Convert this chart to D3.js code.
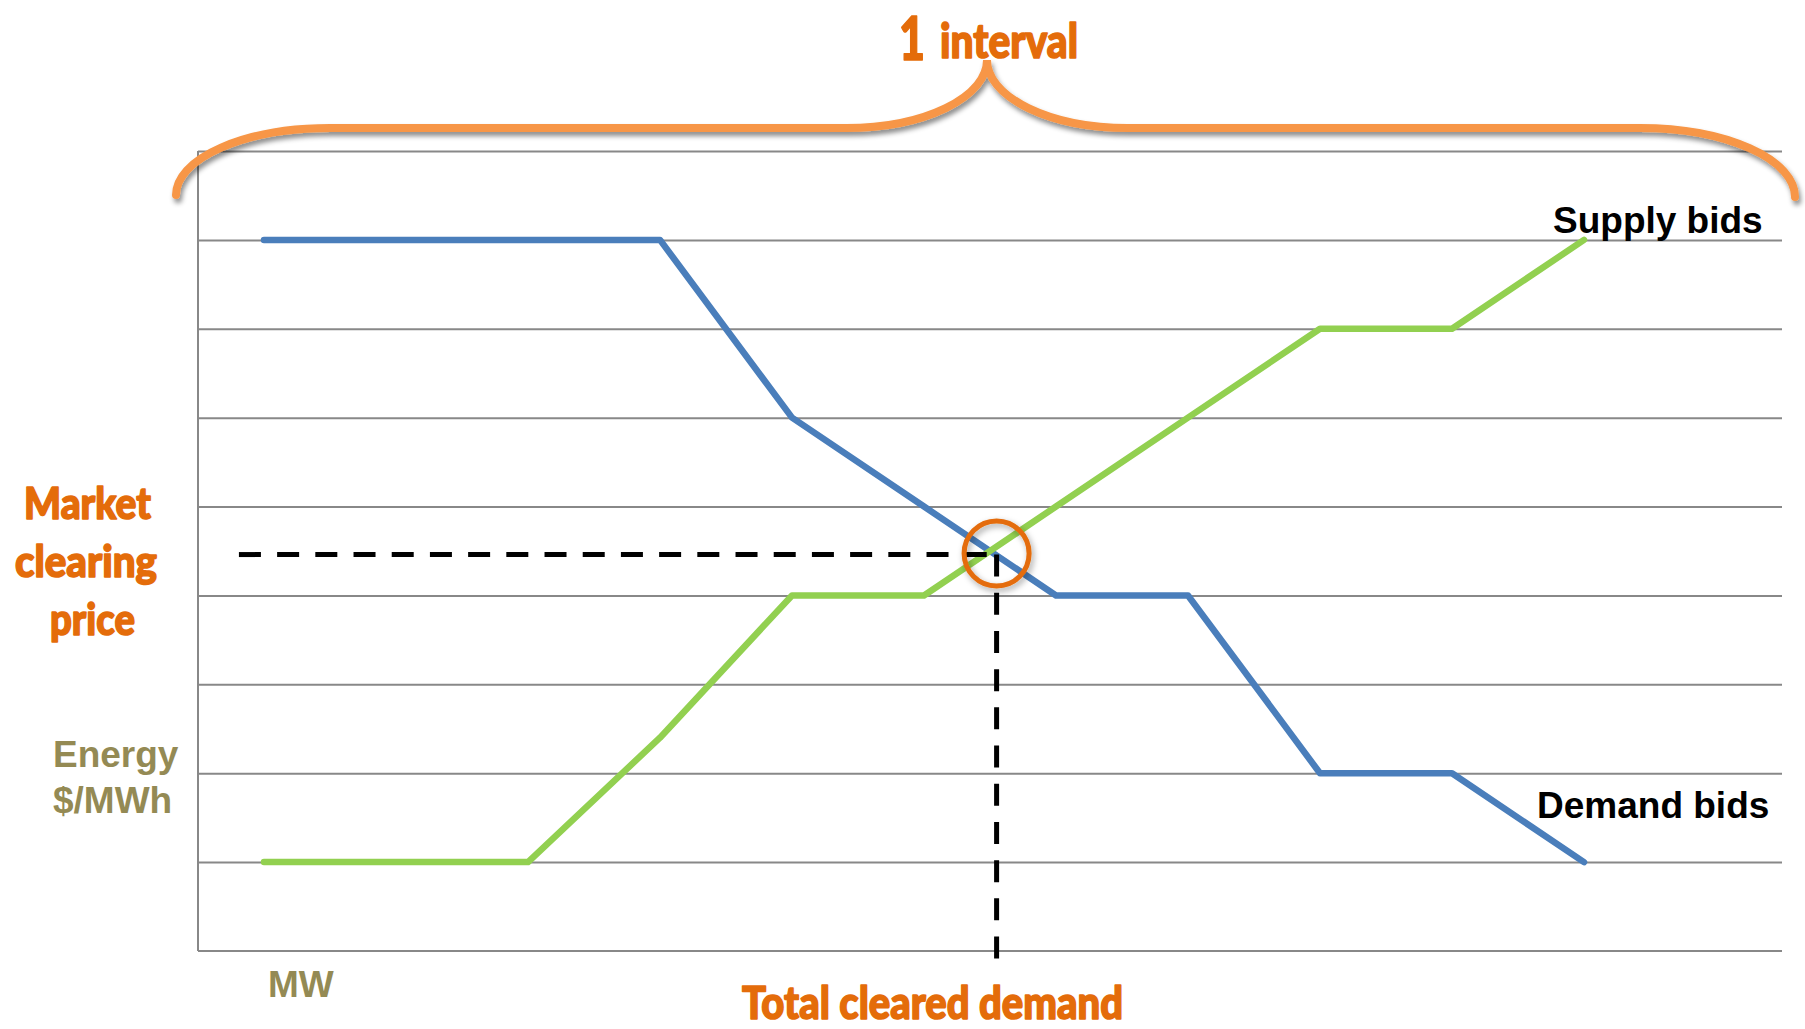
<!DOCTYPE html>
<html>
<head>
<meta charset="utf-8">
<script src="https://cdn.jsdelivr.net/npm/d3@7/dist/d3.min.js"></script>
<style>
  html, body { margin: 0; padding: 0; background: #ffffff; }
  svg { display: block; }
</style>
</head>
<body>
<svg id="chart" width="1805" height="1029"></svg>
<script>
// Bid steps along the MW axis
const mwSteps = [0, 1, 2, 3, 4, 5, 6, 7, 8, 9, 10];
// Demand bid curve ($/MWh), falls with quantity
const demandPrices = [8, 8, 8, 8, 6, 5, 4, 4, 2, 2, 1];
// Supply bid curve ($/MWh), rises with quantity
const supplyPrices = [1, 1, 1, 2.4, 4, 4, 5, 6, 7, 7, 8];
// Horizontal gridline levels
const priceTicks = [1, 2, 3, 4, 5, 6, 7, 8, 9];
// Where the two curves clear
const clearingMW = 5.55;
const clearingPrice = 4.46;

(function () {
const svg = d3.select("#chart");
const defs = svg.append("defs");

defs.append("filter").attr("id", "braceShadow")
  .attr("x", "-5%").attr("y", "-50%").attr("width", "110%").attr("height", "200%")
  .append("feDropShadow")
  .attr("dx", 2).attr("dy", 4).attr("stdDeviation", 2.5)
  .attr("flood-color", "#000").attr("flood-opacity", 0.45);

defs.append("filter").attr("id", "ringShadow")
  .attr("x", "-50%").attr("y", "-50%").attr("width", "200%").attr("height", "200%")
  .append("feDropShadow")
  .attr("dx", 2).attr("dy", 3).attr("stdDeviation", 3)
  .attr("flood-color", "#000").attr("flood-opacity", 0.35);

const plotLeft = 198, plotRight = 1782, plotTop = 151, plotBottom = 951;

const x = d3.scaleLinear().domain([-0.5, 11.5]).range([plotLeft, plotRight]);
const y = d3.scaleLinear().domain([0, 9]).range([plotBottom, plotTop]);

// Gridlines
const grid = svg.append("g")
  .attr("transform", `translate(${plotLeft},0)`)
  .call(d3.axisLeft(y).tickValues(priceTicks).tickSize(-(plotRight - plotLeft)).tickFormat(""));
grid.select(".domain").remove();
grid.selectAll(".tick line").attr("stroke", "#888888").attr("stroke-width", 2);

// Axis lines
svg.append("line")
  .attr("x1", plotLeft).attr("x2", plotLeft).attr("y1", y(9)).attr("y2", y(0))
  .attr("stroke", "#888888").attr("stroke-width", 2);
svg.append("line")
  .attr("x1", plotLeft).attr("x2", plotRight).attr("y1", y(0)).attr("y2", y(0))
  .attr("stroke", "#888888").attr("stroke-width", 2);

const line = d3.line()
  .x((d, i) => x(mwSteps[i]))
  .y(d => y(d));

svg.append("path")
  .datum(demandPrices)
  .attr("d", line)
  .attr("fill", "none")
  .attr("stroke", "#4A7EBB")
  .attr("stroke-width", 6.5)
  .attr("stroke-linejoin", "round")
  .attr("stroke-linecap", "round");

svg.append("path")
  .datum(supplyPrices)
  .attr("d", line)
  .attr("fill", "none")
  .attr("stroke", "#92D050")
  .attr("stroke-width", 6.5)
  .attr("stroke-linejoin", "round")
  .attr("stroke-linecap", "round");

// Dashed guides to the clearing point
svg.append("line")
  .attr("x1", x(-0.19)).attr("x2", x(clearingMW))
  .attr("y1", y(clearingPrice)).attr("y2", y(clearingPrice))
  .attr("stroke", "#000").attr("stroke-width", 5)
  .attr("stroke-dasharray", "22 16.2");
svg.append("line")
  .attr("x1", x(clearingMW)).attr("x2", x(clearingMW))
  .attr("y1", y(clearingPrice)).attr("y2", y(-0.1))
  .attr("stroke", "#000").attr("stroke-width", 5)
  .attr("stroke-dasharray", "22 16.2");

// Ring around the clearing point
svg.append("circle")
  .attr("cx", x(clearingMW)).attr("cy", y(clearingPrice) - 1)
  .attr("r", 32.5)
  .attr("fill", "none")
  .attr("stroke", "#E46C0A")
  .attr("stroke-width", 5)
  .attr("filter", "url(#ringShadow)");

// Curly brace spanning the interval
const bL = plotLeft - 22, bR = plotRight + 13, bY = 128, tipY = 60, bMid = (plotLeft + plotRight) / 2 - 3;
const bracePath = [
  `M${bL},195`,
  `A154,67 0 0 1 ${bL + 154},${bY}`,
  `L${bMid - 141},${bY}`,
  `A141,68 0 0 0 ${bMid},${tipY}`,
  `A141,68 0 0 0 ${bMid + 141},${bY}`,
  `L${bR - 155},${bY}`,
  `A155,69 0 0 1 ${bR},197`
].join(" ");
svg.append("path")
  .attr("d", bracePath)
  .attr("fill", "none")
  .attr("stroke", "#F79646")
  .attr("stroke-width", 8)
  .attr("stroke-linecap", "round")
  .attr("filter", "url(#braceShadow)");

// Condensed heavy orange headings
const orangeFont = "'Lato Black', Lato, Roboto, 'Noto Sans', sans-serif";
function condensed(txt, xPos, base, size, len) {
  svg.append("text")
    .attr("x", xPos).attr("y", base)
    .attr("font-family", orangeFont)
    .attr("font-weight", 900)
    .attr("font-size", size)
    .attr("fill", "#E46C0A")
    .attr("stroke", "#E46C0A")
    .attr("stroke-width", 1.6)
    .attr("stroke-linejoin", "round")
    .attr("textLength", len)
    .attr("lengthAdjust", "spacingAndGlyphs")
    .text(txt);
}
condensed("1", 899, 60, 60, 26);
condensed("interval", 940, 58, 47, 138);
condensed("Market", 24, 519, 44, 127);
condensed("clearing", 15, 577, 44, 142);
condensed("price", 50, 635, 44, 85);
condensed("Total cleared demand", 742, 1019, 45, 381);

// Plain labels
const plainFont = "'Liberation Sans', Arial, Helvetica, sans-serif";
function plain(txt, xPos, base, color) {
  svg.append("text")
    .attr("x", xPos).attr("y", base)
    .attr("font-family", plainFont)
    .attr("font-weight", "bold")
    .attr("font-size", 37)
    .attr("fill", color)
    .text(txt);
}
plain("Supply bids", 1553, 233, "#000000");
plain("Demand bids", 1537, 818, "#000000");
plain("Energy", 53, 767, "#948A54");
plain("$/MWh", 53, 813, "#948A54");
plain("MW", 268, 997, "#948A54");
})();
</script>
</body>
</html>
